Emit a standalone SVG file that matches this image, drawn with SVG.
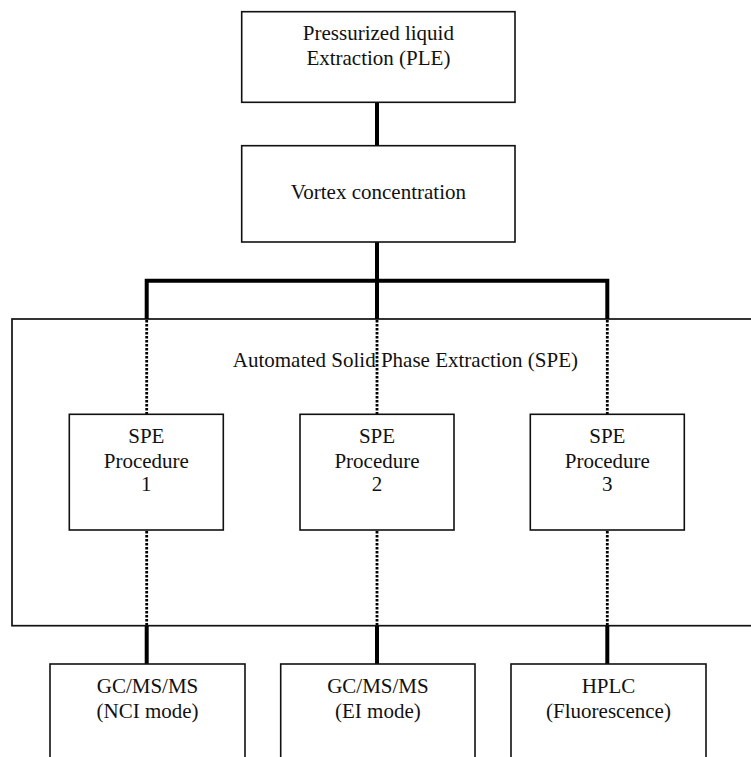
<svg xmlns="http://www.w3.org/2000/svg" width="751" height="757" viewBox="0 0 751 757">
<style>
.box{fill:#fff;stroke:#111;stroke-width:1.6}
.outer{fill:none;stroke:#111;stroke-width:1.7}
.t{font-family:"Liberation Serif","Times New Roman",Times,serif;font-size:21px;fill:#111;text-anchor:middle}
.thick{fill:none;stroke:#000;stroke-width:4;stroke-linejoin:miter;stroke-linecap:butt}
.dot{fill:none;stroke:#000;stroke-width:2.8;stroke-dasharray:2.6 1.4}
</style>
<rect width="751" height="757" fill="#fff"/>
<g id="spe-container">
<rect class="outer" x="12" y="319" width="760" height="306.7"/>
<text class="t" x="405.4" y="366.7">Automated Solid Phase Extraction (SPE)</text>
</g>
<g id="connectors">
<line class="thick" x1="377" y1="102.5" x2="377" y2="145.5"/>
<path class="thick" d="M146.7 319 V280.7 H607.3 V319"/>
<line class="thick" x1="377" y1="242" x2="377" y2="319"/>
<line class="dot" x1="146.7" y1="320" x2="146.7" y2="414"/>
<line class="dot" x1="377" y1="320" x2="377" y2="414"/>
<line class="dot" x1="607.3" y1="320" x2="607.3" y2="414"/>
<line class="dot" x1="146.7" y1="531" x2="146.7" y2="625"/>
<line class="dot" x1="377" y1="531" x2="377" y2="625"/>
<line class="dot" x1="607.3" y1="531" x2="607.3" y2="625"/>
<line class="thick" x1="146.7" y1="626" x2="146.7" y2="664"/>
<line class="thick" x1="377" y1="626" x2="377" y2="664"/>
<line class="thick" x1="607.3" y1="626" x2="607.3" y2="664"/>
</g>
<g id="ple">
<rect class="box" x="241.7" y="11.7" width="273.3" height="90.6"/>
<text class="t" x="378.4" y="40.3">Pressurized liquid</text>
<text class="t" x="378.4" y="65">Extraction (PLE)</text>
</g>
<g id="vortex">
<rect class="box" x="241.7" y="145.7" width="273.3" height="96.3"/>
<text class="t" x="378.4" y="199.3">Vortex concentration</text>
</g>
<g id="spe1">
<rect class="box" x="69.3" y="414.3" width="154" height="115.7"/>
<text class="t" x="146.3" y="442.7">SPE</text>
<text class="t" x="146.3" y="467.5">Procedure</text>
<text class="t" x="146.3" y="491">1</text>
</g>
<g id="spe2">
<rect class="box" x="300" y="414.3" width="154" height="115.7"/>
<text class="t" x="377" y="442.7">SPE</text>
<text class="t" x="377" y="467.5">Procedure</text>
<text class="t" x="377" y="491">2</text>
</g>
<g id="spe3">
<rect class="box" x="530.3" y="414.3" width="154" height="115.7"/>
<text class="t" x="607.3" y="442.7">SPE</text>
<text class="t" x="607.3" y="467.5">Procedure</text>
<text class="t" x="607.3" y="491">3</text>
</g>
<g id="gc-nci">
<rect class="box" x="50" y="664" width="195" height="110"/>
<text class="t" x="147.5" y="693.3">GC/MS/MS</text>
<text class="t" x="147.5" y="718.3">(NCI mode)</text>
</g>
<g id="gc-ei">
<rect class="box" x="280.7" y="664" width="194.3" height="110"/>
<text class="t" x="377.9" y="693.3">GC/MS/MS</text>
<text class="t" x="377.9" y="718.3">(EI mode)</text>
</g>
<g id="hplc">
<rect class="box" x="511" y="664" width="195" height="110"/>
<text class="t" x="608.5" y="693.3">HPLC</text>
<text class="t" x="608.5" y="718.3">(Fluorescence)</text>
</g>
</svg>
